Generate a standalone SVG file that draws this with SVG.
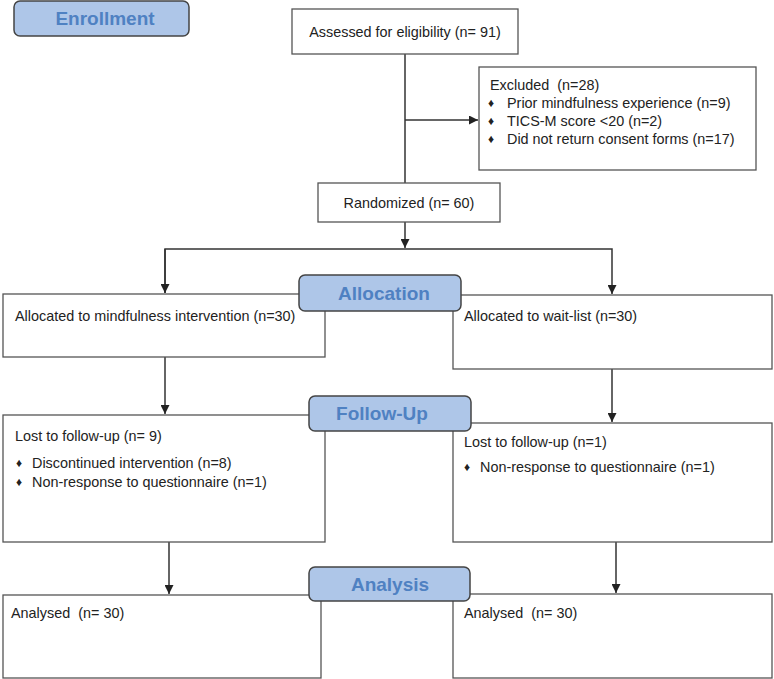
<svg xmlns="http://www.w3.org/2000/svg" width="774" height="679" viewBox="0 0 774 679">
<defs>
<marker id="arr" viewBox="0 0 10 10" refX="10" refY="5" markerWidth="9" markerHeight="9" markerUnits="userSpaceOnUse" orient="auto">
<path d="M0,0 L10,5 L0,10 z" fill="#222"/>
</marker>
<style>
.box{fill:#fff;stroke:#555;stroke-width:1.3}
.lab{fill:#aec6e8;stroke:#444;stroke-width:1.5}
.lt{font-family:"Liberation Sans",Arial,sans-serif;font-weight:bold;font-size:19px;fill:#4f81c2;text-anchor:middle}
.t{font-family:"Liberation Sans",Arial,sans-serif;font-size:14.4px;fill:#222;white-space:pre}
.b{font-family:"Liberation Sans",Arial,sans-serif;font-size:12px;fill:#222}
.c{fill:none;stroke:#333;stroke-width:1.5}
</style>
</defs>
<g id="connectors">
<line class="c" x1="405" y1="54" x2="405" y2="183"/>
<line class="c" x1="405" y1="120" x2="478" y2="120" marker-end="url(#arr)"/>
<line class="c" x1="405" y1="222" x2="405" y2="248" marker-end="url(#arr)"/>
<polyline class="c" points="165,293 165,249 612,249 612,294" marker-end="url(#arr)"/>
<line class="c" x1="165" y1="249" x2="165" y2="293" marker-end="url(#arr)"/>
<line class="c" x1="165" y1="357" x2="165" y2="414" marker-end="url(#arr)"/>
<line class="c" x1="612" y1="369" x2="612" y2="422" marker-end="url(#arr)"/>
<line class="c" x1="169" y1="542" x2="169" y2="594" marker-end="url(#arr)"/>
<line class="c" x1="616" y1="542" x2="616" y2="593" marker-end="url(#arr)"/>
</g>
<g id="enrollment"><rect class="lab" x="14" y="1" width="175" height="35" rx="6"/><text class="lt" x="105" y="25">Enrollment</text></g>
<g id="assessed"><rect class="box" x="292" y="9" width="226" height="45"/><text class="t" x="405" y="37" text-anchor="middle">Assessed for eligibility (n= 91)</text></g>
<g id="excluded"><rect class="box" x="479" y="67" width="277" height="103"/>
<text class="t" x="490" y="90">Excluded  (n=28)</text>
<text class="b" x="488" y="107">♦</text><text class="t" x="507" y="108">Prior mindfulness experience (n=9)</text>
<text class="b" x="488" y="125">♦</text><text class="t" x="507" y="126">TICS-M score &lt;20 (n=2)</text>
<text class="b" x="488" y="143">♦</text><text class="t" x="507" y="144">Did not return consent forms (n=17)</text></g>
<g id="randomized"><rect class="box" x="318" y="183" width="182" height="39"/><text class="t" x="409" y="208" text-anchor="middle">Randomized (n= 60)</text></g>
<g id="alloc-left"><rect class="box" x="3" y="294" width="322" height="63"/><text class="t" x="15" y="321">Allocated to mindfulness intervention (n=30)</text></g>
<g id="alloc-right"><rect class="box" x="453" y="295" width="319" height="74"/><text class="t" x="464" y="321">Allocated to wait-list (n=30)</text></g>
<g id="allocation"><rect class="lab" x="299" y="275" width="162" height="36" rx="6"/><text class="lt" x="384" y="300">Allocation</text></g>
<g id="follow-left"><rect class="box" x="3" y="415" width="322" height="127"/>
<text class="t" x="15" y="441">Lost to follow-up (n= 9)</text>
<text class="b" x="16" y="467">♦</text><text class="t" x="32" y="468">Discontinued intervention (n=8)</text>
<text class="b" x="16" y="486">♦</text><text class="t" x="32" y="487">Non-response to questionnaire (n=1)</text></g>
<g id="follow-right"><rect class="box" x="453" y="423" width="319" height="119"/>
<text class="t" x="464" y="447">Lost to follow-up (n=1)</text>
<text class="b" x="464" y="471">♦</text><text class="t" x="480" y="472">Non-response to questionnaire (n=1)</text></g>
<g id="followup"><rect class="lab" x="309" y="396" width="162" height="35" rx="6"/><text class="lt" x="382" y="420">Follow-Up</text></g>
<g id="analysed-left"><rect class="box" x="3" y="595" width="318" height="83"/><text class="t" x="11" y="618">Analysed  (n= 30)</text></g>
<g id="analysed-right"><rect class="box" x="453" y="594" width="319" height="84"/><text class="t" x="464" y="618">Analysed  (n= 30)</text></g>
<g id="analysis"><rect class="lab" x="309" y="567" width="161" height="34" rx="6"/><text class="lt" x="390" y="591">Analysis</text></g>
</svg>
